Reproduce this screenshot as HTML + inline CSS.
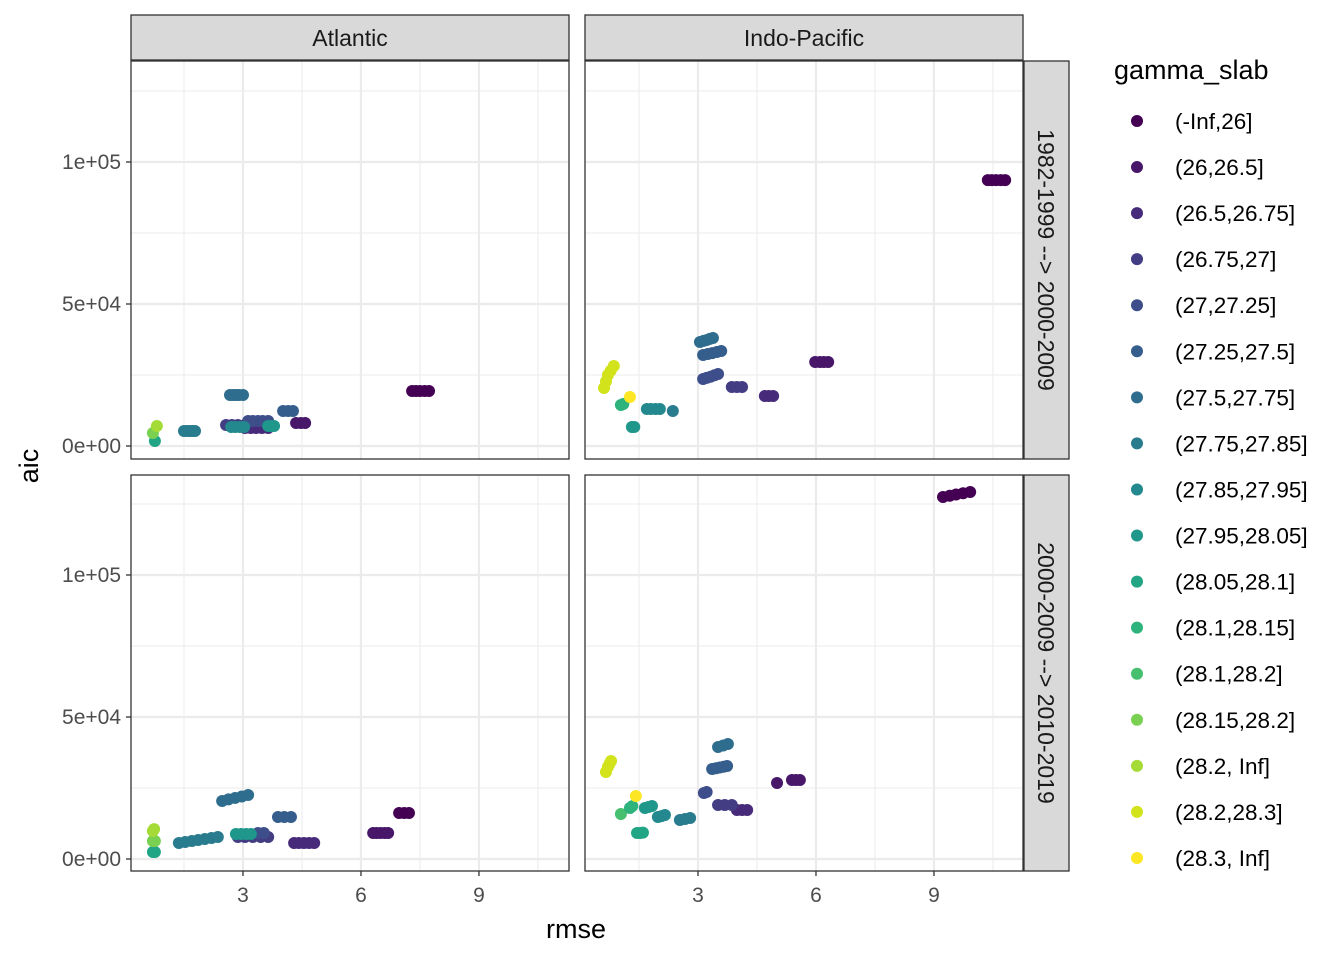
<!DOCTYPE html>
<html><head><meta charset="utf-8"><style>
body{margin:0;background:#fff}
svg text{font-family:"Liberation Sans",Arial,sans-serif}
</style></head><body>
<svg id="chart" width="1344" height="960" xmlns="http://www.w3.org/2000/svg"></svg>
<script>
const groups = ["(-Inf,26]","(26,26.5]","(26.5,26.75]","(26.75,27]","(27,27.25]","(27.25,27.5]","(27.5,27.75]","(27.75,27.85]","(27.85,27.95]","(27.95,28.05]","(28.05,28.1]","(28.1,28.15]","(28.1,28.2]","(28.15,28.2]","(28.2, Inf]","(28.2,28.3]","(28.3, Inf]"];
const colors = ["#440154","#481769","#472A7A","#433D84","#3D4E8A","#355E8D","#2E6D8E","#297B8E","#23898E","#1F978B","#21A585","#2EB37C","#46C06F","#7AD151","#A5DB36","#D2E21B","#FDE725"];
const xTicks = [3,6,9];
const xMinor = [1.5,4.5,7.5,10.5];
const yTicks = [0,50000,100000];
const yTickLabels = ["0e+00","5e+04","1e+05"];
const yMinor = [25000,75000,125000];
const colFacets = ["Atlantic","Indo-Pacific"];
const rowFacets = ["1982-1999 --> 2000-2009","2000-2009 --> 2010-2019"];
// points: [group index, rmse, aic]
const pointsTL = [[0,7.30,19360],[0,7.40,19360],[0,7.50,19360],[0,7.62,19360],[0,7.73,19360],[1,4.35,8100],[1,4.47,8100],[1,4.58,8100],[5,4.02,12320],[5,4.15,12320],[5,4.27,12320],[6,2.67,17950],[6,2.75,17950],[6,2.82,17950],[6,2.90,17950],[6,3.00,17950],[7,1.50,5280],[7,1.58,5280],[7,1.65,5280],[7,1.72,5280],[7,1.78,5280],[3,2.57,7390],[3,2.72,7390],[3,2.87,7390],[3,3.05,7390],[3,3.23,7390],[3,3.40,7390],[3,3.56,7390],[2,3.05,6340],[2,3.20,6340],[2,3.33,6340],[2,3.48,6340],[2,3.64,6340],[4,3.13,8800],[4,3.25,8800],[4,3.38,8800],[4,3.50,8800],[4,3.64,8800],[8,2.70,6690],[8,2.80,6690],[8,2.92,6690],[8,3.03,6690],[9,3.64,7040],[9,3.72,7040],[9,3.79,7040],[10,0.76,1760],[13,0.71,4580],[14,0.81,7040]];
const pointsTR = [[0,10.37,93630],[0,10.47,93630],[0,10.58,93630],[0,10.70,93630],[0,10.81,93630],[1,5.98,29570],[1,6.10,29570],[1,6.20,29570],[1,6.31,29570],[2,4.70,17600],[2,4.80,17600],[2,4.91,17600],[3,3.86,20770],[3,3.99,20770],[3,4.12,20770],[4,3.13,23580],[4,3.22,24000],[4,3.32,24400],[4,3.42,24900],[4,3.51,25340],[5,3.13,32030],[5,3.25,32400],[5,3.36,32700],[5,3.48,33100],[5,3.59,33440],[6,3.05,36610],[6,3.14,37000],[6,3.22,37300],[6,3.30,37700],[6,3.38,38020],[7,2.36,12320],[8,1.70,13020],[8,1.80,13020],[8,1.92,13020],[8,2.03,13020],[9,1.32,6690],[9,1.38,6690],[11,1.04,14430],[11,1.10,14800],[16,1.27,17250],[15,0.61,20420],[15,0.66,22700],[15,0.71,24990],[15,0.78,26500],[15,0.86,28160]];
const pointsBL = [[0,6.97,16190],[0,7.10,16190],[0,7.22,16190],[1,6.31,9150],[1,6.40,9150],[1,6.50,9150],[1,6.60,9150],[1,6.69,9150],[2,4.30,5630],[2,4.42,5630],[2,4.55,5630],[2,4.68,5630],[2,4.81,5630],[3,2.87,7740],[3,3.05,7740],[3,3.25,7740],[3,3.45,7740],[3,3.64,7740],[4,3.38,9150],[4,3.53,9150],[5,3.89,14780],[5,4.05,14780],[5,4.22,14780],[6,2.47,20420],[6,2.63,21000],[6,2.80,21500],[6,2.97,22000],[6,3.13,22530],[7,1.37,5630],[7,1.53,6000],[7,1.70,6340],[7,1.86,6700],[7,2.03,7040],[7,2.20,7400],[7,2.36,7740],[9,2.82,8800],[9,2.95,8800],[9,3.08,8800],[9,3.20,8800],[10,0.71,2460],[10,0.76,2460],[13,0.71,6340],[13,0.76,6340],[14,0.71,9860],[14,0.74,10500]];
const pointsBR = [[0,9.23,127460],[0,9.40,127900],[0,9.56,128340],[0,9.74,128800],[0,9.92,129220],[1,5.01,26750],[1,5.39,27810],[1,5.49,27810],[1,5.59,27810],[2,3.99,17250],[2,4.12,17250],[2,4.25,17250],[3,3.51,19010],[3,3.68,19010],[3,3.86,19010],[4,3.15,23230],[4,3.22,23600],[5,3.36,31690],[5,3.46,31950],[5,3.55,32200],[5,3.65,32500],[5,3.74,32740],[6,3.51,39430],[6,3.64,39950],[6,3.76,40480],[7,2.54,13730],[7,2.67,14100],[7,2.80,14430],[8,1.98,14780],[8,2.07,15100],[8,2.16,15490],[9,1.65,17950],[9,1.74,18300],[9,1.83,18660],[10,1.45,9150],[10,1.53,9150],[10,1.60,9300],[12,1.04,15840],[11,1.27,17950],[11,1.33,18600],[16,1.42,22180],[15,0.66,30630],[15,0.71,32390],[15,0.75,33500],[15,0.79,34500]];

const NS="http://www.w3.org/2000/svg";
const svg=document.getElementById('chart');
function mk(tag,attrs,parent){const e=document.createElementNS(NS,tag);for(const k in attrs)e.setAttribute(k,attrs[k]);(parent||svg).appendChild(e);return e;}
const cols=[{x0:131,x1:569,zero:125},{x0:585,x1:1023,zero:580}];
const rows=[{y0:61,y1:459,zero:446},{y0:475,y1:871,zero:859}];
const pxPerX=39.33, pxPerY=142/50000;
function sx(c,v){return cols[c].zero+v*pxPerX;}
function sy(r,v){return rows[r].zero-v*pxPerY;}
const panelData=[[pointsTL,pointsTR],[pointsBL,pointsBR]];
for(let r=0;r<2;r++)for(let c=0;c<2;c++){
  const C=cols[c],R=rows[r];
  const g=mk('g',{});
  
  
  mk('rect',{x:C.x0,y:R.y0,width:C.x1-C.x0,height:R.y1-R.y0,fill:'#fff'},g);
  xMinor.forEach(v=>{const l=mk('line',{x1:sx(c,v),x2:sx(c,v),y1:R.y0,y2:R.y1,stroke:'#ebebeb','stroke-width':1},g);});
  yMinor.forEach(v=>{const l=mk('line',{x1:C.x0,x2:C.x1,y1:sy(r,v),y2:sy(r,v),stroke:'#ebebeb','stroke-width':1},g);});
  xTicks.forEach(v=>{const l=mk('line',{x1:sx(c,v),x2:sx(c,v),y1:R.y0,y2:R.y1,stroke:'#ebebeb','stroke-width':2.2},g);});
  yTicks.forEach(v=>{const l=mk('line',{x1:C.x0,x2:C.x1,y1:sy(r,v),y2:sy(r,v),stroke:'#ebebeb','stroke-width':2.2},g);});
  panelData[r][c].forEach(p=>{
    const d=mk('circle',{cx:sx(c,p[1]),cy:sy(r,p[2]),r:6,fill:colors[p[0]]},g);
    
    
  });
  const b=mk('rect',{x:C.x0,y:R.y0,width:C.x1-C.x0,height:R.y1-R.y0,fill:'none',stroke:'#333','stroke-width':1.3},g);
  
  if(c===0){
    yTicks.forEach((v,i)=>{
      mk('line',{x1:C.x0-5,x2:C.x0,y1:sy(r,v),y2:sy(r,v),stroke:'#333','stroke-width':1.3});
      const t=mk('text',{x:C.x0-10,y:sy(r,v)+7,'text-anchor':'end','font-size':21,fill:'#4d4d4d'});
      t.textContent=yTickLabels[i];
      
    });
  }
  if(r===1){
    xTicks.forEach(v=>{
      mk('line',{x1:sx(c,v),x2:sx(c,v),y1:R.y1,y2:R.y1+5,stroke:'#333','stroke-width':1.3});
      const t=mk('text',{x:sx(c,v),y:R.y1+31,'text-anchor':'middle','font-size':21,fill:'#4d4d4d'});
      t.textContent=v;
      
    });
  }
}
colFacets.forEach((f,c)=>{
  const C=cols[c];
  const s=mk('rect',{x:C.x0,y:15,width:C.x1-C.x0,height:45,fill:'#d9d9d9',stroke:'#333','stroke-width':1.3});
  
  const t=mk('text',{x:(C.x0+C.x1)/2,y:46,'text-anchor':'middle','font-size':23,fill:'#1a1a1a'});
  t.textContent=f;
});
rowFacets.forEach((f,r)=>{
  const R=rows[r];
  const s=mk('rect',{x:1024,y:R.y0,width:45,height:R.y1-R.y0,fill:'#d9d9d9',stroke:'#333','stroke-width':1.3});
  
  const cy=(R.y0+R.y1)/2;
  const t=mk('text',{x:1038,y:cy,'text-anchor':'middle','font-size':23,fill:'#1a1a1a',transform:`rotate(90 1038 ${cy})`});
  t.textContent=f;
});
const xl=mk('text',{x:576,y:938,'text-anchor':'middle','font-size':27,fill:'#000'});xl.textContent='rmse';

const yl=mk('text',{x:38,y:466,'text-anchor':'middle','font-size':27,fill:'#000',transform:'rotate(-90 38 466)'});yl.textContent='aic';

const lt=mk('text',{x:1114,y:79,'font-size':27,fill:'#000'});lt.textContent='gamma_slab';

groups.forEach((gname,i)=>{
  const y=121+i*46.06;
  const g=mk('g',{});
  
  
  mk('circle',{cx:1137,cy:y,r:6,fill:colors[i]},g);
  const t=mk('text',{x:1175,y:y+8,'font-size':22.5,fill:'#000'},g);t.textContent=gname;
});
</script>
</body></html>
